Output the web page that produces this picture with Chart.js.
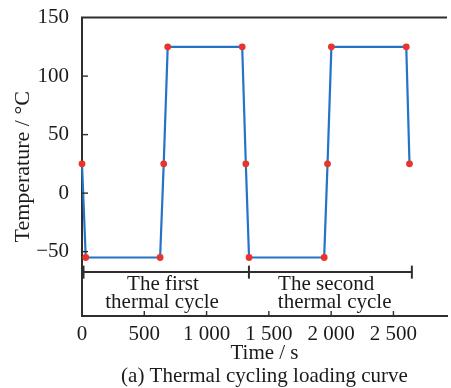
<!DOCTYPE html>
<html><head><meta charset="utf-8">
<script src="https://cdn.jsdelivr.net/npm/chart.js@4"></script>
<style>html,body{margin:0;padding:0;background:#fff}</style>
</head><body>
<canvas id="c" width="451" height="388"></canvas>
<script>
// ---- data ----
const timeS  = [0, 30, 627, 656, 688, 1286, 1315, 1341, 1944, 1971, 2002, 2603, 2629];
const tempC  = [25, -55, -55, 25, 125, 125, 25, -55, -55, 25, 125, 125, 25];
const xTickValues = [0, 500, 1000, 1500, 2000, 2500];
const yTickValues = [-50, 0, 50, 100, 150];
const cycleBounds = [0, 1340, 2648];          // bracket ends (s)
const bracketLevel = -67.5;                   // bracket height (°C)
const cycleLabelLine1 = ["The first", "The second"];
const cycleLabelLine2 = ["thermal cycle", "thermal cycle"];
const cycleLabelX1 = [650, 1960];
const cycleLabelX2 = [643, 2028];
const cycleLabelY = [-78, -93.6];

const FONT = "'Liberation Serif', 'Times New Roman', serif";
const INK = '#1a1a1a';
const AXIS = '#2e2e2e';

function fmtTick(v) {
  let s = String(Math.abs(v));
  if (Math.abs(v) >= 1000) s = s.replace(/\B(?=(\d{3})+$)/g, ' ');
  return (v < 0 ? '\u2212' : '') + s;
}

const framePlugin = {
  id: 'frame',
  afterDatasetsDraw(chart) {
    const {ctx, chartArea: a, scales: {x, y}} = chart;
    ctx.save();
    ctx.strokeStyle = AXIS;
    ctx.lineWidth = 2;
    // top frame line
    ctx.beginPath(); ctx.moveTo(a.left - 1, a.top); ctx.lineTo(a.right, a.top); ctx.stroke();
    // inward ticks
    ctx.lineWidth = 1.4;
    xTickValues.forEach(v => {
      if (v === 0) return;
      const px = x.getPixelForValue(v);
      ctx.beginPath(); ctx.moveTo(px, a.bottom); ctx.lineTo(px, a.bottom - 5); ctx.stroke();
    });
    yTickValues.forEach(v => {
      if (v === 150) return;
      const py = y.getPixelForValue(v);
      ctx.beginPath(); ctx.moveTo(a.left, py); ctx.lineTo(a.left + 6, py); ctx.stroke();
    });
    // bracket
    const by = y.getPixelForValue(bracketLevel);
    ctx.lineWidth = 2;
    ctx.beginPath();
    ctx.moveTo(x.getPixelForValue(cycleBounds[0]), by);
    ctx.lineTo(x.getPixelForValue(cycleBounds[cycleBounds.length - 1]), by);
    ctx.stroke();
    cycleBounds.forEach((v, i) => {
      const px = x.getPixelForValue(v) + (i === 0 ? 1 : 0);
      ctx.lineWidth = i === 0 ? 3 : 2;
      ctx.beginPath(); ctx.moveTo(px, by - 6.5); ctx.lineTo(px, by + 6.5); ctx.stroke();
    });
    // labels
    ctx.fillStyle = INK;
    ctx.font = '21px ' + FONT;
    ctx.textAlign = 'center';
    ctx.textBaseline = 'middle';
    cycleLabelLine1.forEach((t, i) => {
      ctx.fillText(t, x.getPixelForValue(cycleLabelX1[i]), y.getPixelForValue(cycleLabelY[0]));
      ctx.fillText(cycleLabelLine2[i], x.getPixelForValue(cycleLabelX2[i]), y.getPixelForValue(cycleLabelY[1]));
    });
    ctx.restore();
  }
};

new Chart(document.getElementById('c'), {
  type: 'line',
  data: {
    datasets: [{
      data: timeS.map((t, i) => ({x: t, y: tempC[i]})),
      borderColor: '#2573c6',
      borderWidth: 2.2,
      pointBackgroundColor: '#e8342a',
      pointBorderColor: '#e8342a',
      pointBorderWidth: 0,
      pointRadius: 3.4,
      tension: 0,
      clip: false
    }]
  },
  options: {
    responsive: false,
    animation: false,
    devicePixelRatio: 1,
    layout: {padding: {top: 17, right: 0, bottom: 0, left: 0}},
    plugins: {legend: {display: false}, tooltip: {enabled: false}, title: {display: false}},
    scales: {
      x: {
        type: 'linear',
        min: 0, max: 2930,
        afterBuildTicks: s => { s.ticks = xTickValues.map(v => ({value: v})); },
        afterFit: s => { s.height = 72; },
        grid: {display: false},
        border: {display: true, color: AXIS, width: 2},
        ticks: {
          color: INK, padding: -2, maxRotation: 0, autoSkip: false,
          font: {family: FONT, size: 21},
          callback: v => fmtTick(v)
        },
        title: {
          display: true,
          text: ['Time / s', '(a) Thermal cycling loading curve'],
          color: INK,
          font: {family: FONT, size: 21, lineHeight: 1.1},
          padding: {top: 0, bottom: 0}
        }
      },
      y: {
        min: -105, max: 150,
        afterBuildTicks: s => { s.ticks = yTickValues.map(v => ({value: v})); },
        afterFit: s => { s.width = 82; },
        grid: {display: false},
        border: {display: true, color: AXIS, width: 2},
        ticks: {
          color: INK, padding: 5,
          font: {family: FONT, size: 21},
          callback: v => fmtTick(v)
        },
        title: {
          display: true,
          text: 'Temperature / \u00B0C',
          color: INK,
          font: {family: FONT, size: 22},
          padding: {top: 10, bottom: 0}
        }
      }
    }
  },
  plugins: [framePlugin]
});
</script>
</body></html>
